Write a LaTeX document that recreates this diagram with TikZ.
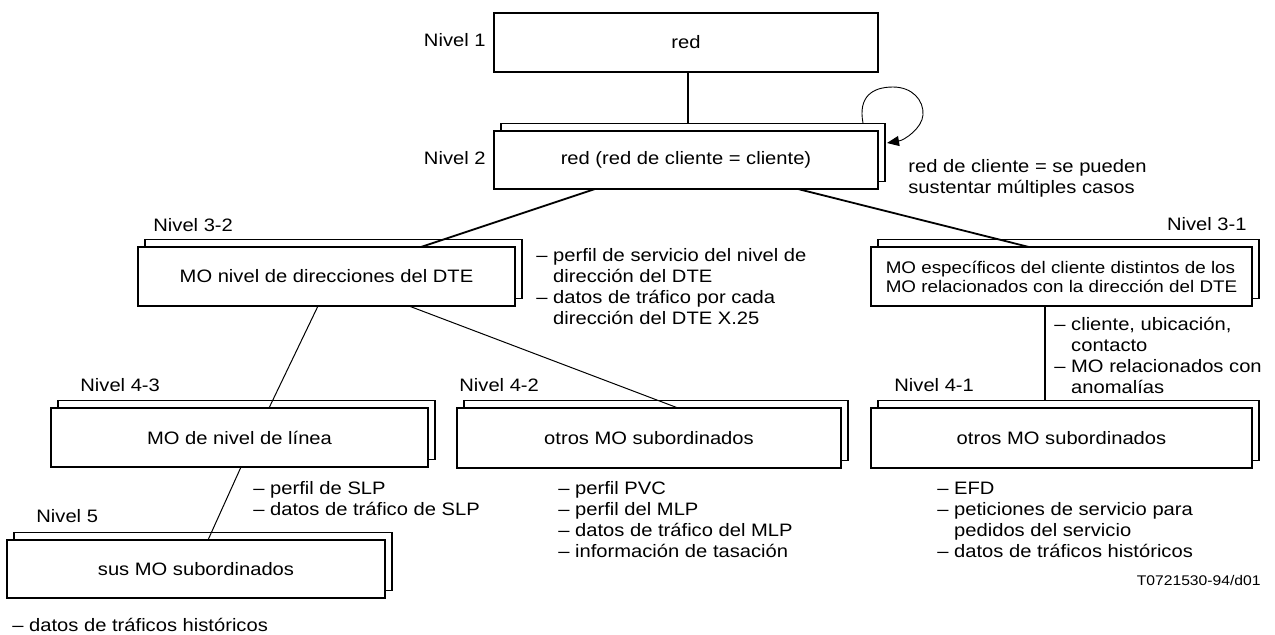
\documentclass[tikz,border=0pt]{standalone}
\usepackage{fontspec}
\setmainfont{Liberation Sans}[FakeStretch=1.12]
\usetikzlibrary{calc,shadows,arrows.meta}
\newcommand{\guion}{–\ }
\newcommand{\sangria}{\phantom{–\ }}
\newcommand{\lista}[1]{\begin{tabular}[t]{@{}l@{}}#1\end{tabular}}

\begin{document}
\begin{tikzpicture}[x=0.5pt,y=-0.5pt,
    caja/.style={draw, fill=white, line width=0.7pt, inner sep=0pt, outer sep=0pt,
      minimum height=29.5pt, font=\fontsize{9}{10.5}\selectfont},
    pila/.style={caja, copy shadow={shadow xshift=3.5pt, shadow yshift=3.75pt,
      draw=black, fill=white, line width=0.7pt}},
    rotulo/.style={inner sep=0pt, font=\fontsize{9}{10.5}\selectfont},
    enlace/.style={line width=0.7pt},
    grueso/.style={line width=0.9pt},
    rama/.style={line width=0.5pt},
    lazo/.style={line width=0.45pt, -{Triangle[length=6pt,width=5pt]}}]
    \useasboundingbox (0,0) rectangle (1275,634);

    \node [caja, minimum width=192pt] (n1) at (686,42.5) {red};
    \node [pila, minimum width=192pt, minimum height=29pt] (n2) at (686,160) {red (red de cliente = cliente)};
    \node [pila, minimum width=188.5pt] (n32) at (326.5,276.5) {MO nivel de direcciones del DTE};
    \node [pila, minimum width=190.5pt, align=left, font=\fontsize{8.4}{9.5}\selectfont] (n31) at (1061.5,276.5)
        {MO específicos del cliente distintos de los\\MO relacionados con la dirección del DTE};
    \node [pila, minimum width=188.5pt] (n43) at (239.5,437.5) {MO de nivel de línea};
    \node [pila, minimum width=192pt, minimum height=30pt] (n42) at (649,438) {otros MO subordinados};
    \node [pila, minimum width=190.5pt, minimum height=30pt] (n41) at (1061.5,438) {otros MO subordinados};
    \node [pila, minimum width=189pt, minimum height=29pt] (n5) at (196,569) {sus MO subordinados};

    \node [rotulo, anchor=base east] (r1) at (486,46.5) {Nivel 1};
    \node [rotulo, anchor=base east] (r2) at (486,164.5) {Nivel 2};
    \node [rotulo, anchor=base west] (r32) at (153,231) {Nivel 3-2};
    \node [rotulo, anchor=base east] (r31) at (1247,230.5) {Nivel 3-1};
    \node [rotulo, anchor=base west] (r43) at (80,391) {Nivel 4-3};
    \node [rotulo, anchor=base west] (r42) at (459,391.5) {Nivel 4-2};
    \node [rotulo, anchor=base west] (r41) at (894,391) {Nivel 4-1};
    \node [rotulo, anchor=base west] (r5) at (36,522) {Nivel 5};

    \node [rotulo, anchor=base west] (t2) at (908,172) {\lista{red de cliente = se pueden\\sustentar múltiples casos}};
    \node [rotulo, anchor=base west] (t32) at (536,261) {\lista{\guion perfil de servicio del nivel de\\\sangria dirección del DTE\\\guion datos de tráfico por cada\\\sangria dirección del DTE X.25}};
    \node [rotulo, anchor=base west] (t31) at (1054,330) {\lista{\guion cliente, ubicación,\\\sangria contacto\\\guion MO relacionados con\\\sangria anomalías}};
    \node [rotulo, anchor=base west] (t43) at (253,494) {\lista{\guion perfil de SLP\\\guion datos de tráfico de SLP}};
    \node [rotulo, anchor=base west] (t42) at (558,494) {\lista{\guion perfil PVC\\\guion perfil del MLP\\\guion datos de tráfico del MLP\\\guion información de tasación}};
    \node [rotulo, anchor=base west] (t41) at (937,494) {\lista{\guion EFD\\\guion peticiones de servicio para\\\sangria pedidos del servicio\\\guion datos de tráficos históricos}};
    \node [rotulo, anchor=base west] (t5) at (12,631) {\guion datos de tráficos históricos};
    \node [rotulo, anchor=base east, font=\fontsize{7}{8}\selectfont] (codigo) at (1261,585) {T0721530-94/d01};

    \draw [enlace] ($(n1.south west)+(194,0)$) -- ($(n2.north west)+(194,-8)$);
    \draw [grueso] ($(n2.south west)+(101,0)$) -- ($(n32.north west)+(283,0)$);
    \draw [grueso] ($(n2.south west)+(304,0)$) -- ($(n31.north west)+(158,0)$);
    \draw [rama] ($(n32.south west)+(180,0)$) -- ($(n43.north west)+(218,0)$);
    \draw [rama] ($(n32.south west)+(271,0)$) -- ($(n42.north west)+(221,0)$);
    \draw [enlace] ($(n31.south west)+(174,0)$) -- ($(n41.north west)+(174,-7)$);
    \draw [rama] ($(n43.south west)+(190,0)$) -- ($(n5.north west)+(201,0)$);
    \draw [lazo] ($(n2.north west)+(369,-8)$) .. controls +(-5,-26) and +(-21,0) .. (893,87)
        .. controls +(19,0) and +(1,-15) .. (923,115)
        .. controls +(-1,13) and +(18,-3) .. ($(n2.north east)+(9,12)$);
\end{tikzpicture}
\end{document}
